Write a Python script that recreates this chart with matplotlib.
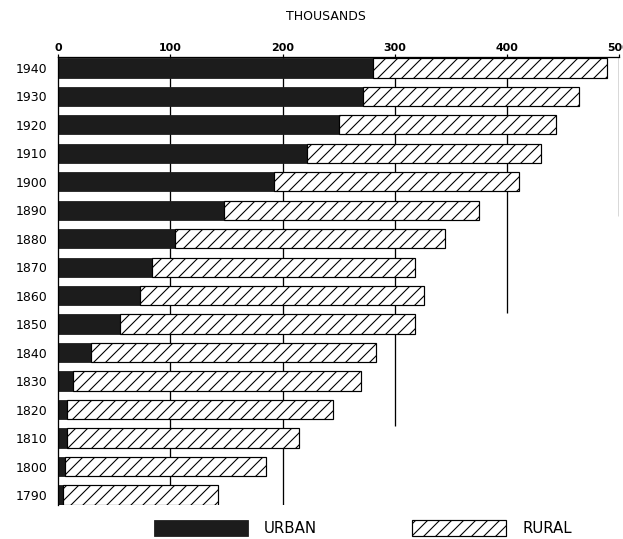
import numpy as np
import matplotlib
matplotlib.use("Agg")
import matplotlib.pyplot as plt

# population in thousands
years = [1790, 1800, 1810, 1820, 1830, 1840, 1850, 1860,
         1870, 1880, 1890, 1900, 1910, 1920, 1930, 1940]
urban = [4, 6, 8, 8, 13, 29, 55, 73, 84, 104, 148, 192, 222, 250, 272, 281]
rural = [138, 179, 207, 237, 257, 254, 263, 253, 234, 241, 227, 219, 208, 194, 192, 208]

xticks = [0, 100, 200, 300, 400, 500]
# where each vertical guide line stops (in bar-row units, 1790 row = 0)
guide_x = [100, 200, 300, 400, 500]
guide_stop = [0.34, -0.34, 2.41, 6.39, 9.81]

plt.rcParams['font.family'] = ['DejaVu Sans']
plt.rcParams['hatch.linewidth'] = 1.1

fig = plt.figure(figsize=(623 / 72, 539 / 72), dpi=72)
ax = fig.add_axes([58.3 / 623, 1 - 505 / 539, 560.7 / 623, 448 / 539])

y = np.arange(len(years))
top = 15.38

ax.vlines(guide_x, guide_stop, top, color="black", lw=1.3, zorder=0)

ax.barh(y, urban, height=0.68, color="#1c1c1c", edgecolor="#1c1c1c",
        lw=0.8, zorder=2, label="URBAN")
ax.barh(y, rural, left=urban, height=0.68, color="white", edgecolor="black",
        hatch="//", lw=1.2, zorder=2, label="RURAL")

ax.set_xlim(0, 500)
ax.set_ylim(-0.35, top)
ax.set_yticks(y)
ax.set_yticklabels([str(v) for v in years], fontsize=12.5)
ax.tick_params(axis="y", length=0, pad=11)

ax.xaxis.tick_top()
ax.set_xticks(xticks)
ax.set_xticklabels([str(v) for v in xticks], fontsize=11, fontweight="bold")
ax.tick_params(axis="x", length=3.5, width=1.2, pad=0.5)

for s in ["right", "bottom"]:
    ax.spines[s].set_visible(False)
ax.spines["top"].set_linewidth(1.3)
ax.spines["left"].set_linewidth(1.3)

fig.text(326 / 623, 1 - 16 / 539, "THOUSANDS", fontsize=12.5,
         ha="center", va="center")

fig.legend(loc="center left", bbox_to_anchor=(146 / 623, 1 - 528 / 539),
           ncol=2, frameon=False, fontsize=15, borderpad=0,
           handlelength=6.3, handleheight=1.27, handletextpad=1.07,
           columnspacing=6.3)

fig.savefig("out.png", dpi=72)
